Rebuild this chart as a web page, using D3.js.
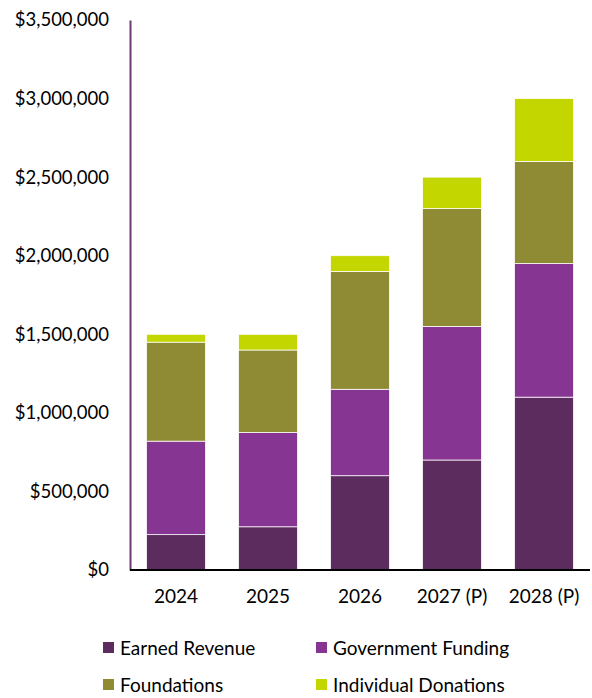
<!DOCTYPE html>
<html><head><meta charset="utf-8">
<script src="https://cdn.jsdelivr.net/npm/d3@7"></script>
<style>body{margin:0;background:#fff}svg{display:block}text{font-family:Lato,"Open Sans",sans-serif;fill:#000}</style>
</head><body>
<svg id="c" width="592" height="698"></svg>
<script>
const categories = ["2024","2025","2026","2027 (P)","2028 (P)"];
const seriesNames = ["Earned Revenue","Government Funding","Foundations","Individual Donations"];
const earnedRevenue = [225000, 275000, 600000, 700000, 1100000];
const governmentFunding = [595000, 600000, 550000, 850000, 850000];
const foundations = [630000, 525000, 750000, 750000, 650000];
const individualDonations = [50000, 100000, 100000, 200000, 400000];
const yTicks = [0,500000,1000000,1500000,2000000,2500000,3000000,3500000];
const colors = ["#5C2C5E","#863593","#8F8B35","#C4D600"];

(function(){
const seriesVals = [earnedRevenue, governmentFunding, foundations, individualDonations];
const rows = categories.map((c,i)=>{const r={cat:c}; seriesNames.forEach((s,j)=>r[s]=seriesVals[j][i]); return r;});
const stacked = d3.stack().keys(seriesNames)(rows);

const svg = d3.select("#c");
const mL=130, mR=590, mT=20, mB=570;
const x = d3.scaleBand().domain(categories).range([mL,mR]).paddingInner(0.36).paddingOuter(0.18);
const y = d3.scaleLinear().domain([0,3500000]).range([mB,mT]);

svg.append("g").selectAll("g").data(stacked).join("g").attr("fill",(d,i)=>colors[i])
  .selectAll("rect").data(d=>d).join("rect")
  .attr("x",d=>x(d.data.cat)).attr("width",x.bandwidth())
  .attr("y",d=>y(d[1])).attr("height",d=>y(d[0])-y(d[1]))
  .attr("stroke","#fff").attr("stroke-width",0.75);

const fmt = v => "$" + d3.format(",")(v);
const ya = svg.append("g").attr("transform",`translate(${mL},0)`)
  .call(d3.axisLeft(y).tickValues(yTicks).tickFormat(fmt).tickSize(0).tickPadding(21));
ya.select(".domain").attr("stroke","#6B3A70").attr("stroke-width",2);
ya.selectAll("text").attr("font-size",18.5).style("font-family","Lato,'Open Sans',sans-serif").attr("fill","#000");

const xa = svg.append("g").attr("transform",`translate(0,${mB})`)
  .call(d3.axisBottom(x).tickSize(0).tickPadding(20));
xa.select(".domain").attr("stroke","#000").attr("stroke-width",2).attr("d",`M${mL},0H${mR}`);
xa.selectAll("text").attr("font-size",19).style("font-family","Lato,'Open Sans',sans-serif").attr("fill","#000");

const legPos = [[103,648],[316,648],[103,685],[316,685]];
const lg = svg.append("g").selectAll("g").data(seriesNames).join("g")
  .attr("transform",(d,i)=>`translate(${legPos[i][0]},${legPos[i][1]})`);
lg.append("rect").attr("x",0).attr("y",-6).attr("width",11).attr("height",11).attr("fill",(d,i)=>colors[i]);
lg.append("text").attr("x",17).attr("y",0).attr("dy","0.35em").attr("font-size",19).text(d=>d);
})();
</script>
</body></html>
